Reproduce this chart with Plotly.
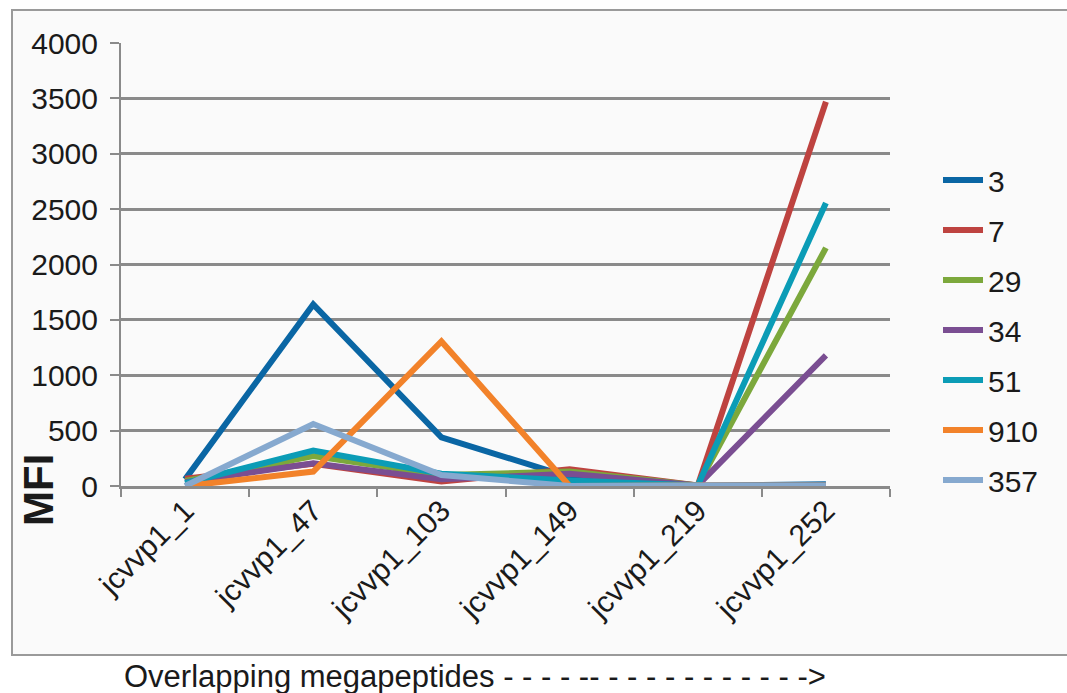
import plotly.graph_objects as go

categories = ["jcvvp1_1", "jcvvp1_47", "jcvvp1_103", "jcvvp1_149", "jcvvp1_219", "jcvvp1_252"]
series_names = ["3", "7", "29", "34", "51", "910", "357"]
s3 = [60, 1640, 440, 80, 5, 15]
s7 = [65, 200, 40, 150, 5, 3470]
s29 = [45, 270, 100, 130, 5, 2150]
s34 = [35, 205, 60, 110, 5, 1180]
s51 = [25, 320, 110, 50, 5, 2555]
s910 = [0, 130, 1305, 0, 5, 5]
s357 = [0, 560, 100, 0, 5, 5]
values = [s3, s7, s29, s34, s51, s910, s357]
colors = ["#0A66A4", "#BE4340", "#7CA83C", "#7A4E92", "#0B9CB6", "#F2822A", "#86A9CF"]
y_ticks = [0, 500, 1000, 1500, 2000, 2500, 3000, 3500, 4000]

L, R, T, B = 121, 890, 43, 486
W, H = 1067, 693
pw, ph = R - L, B - T

def px(x):
    return (x - L) / pw

def py(y):
    return (B - y) / ph

fig = go.Figure()
for name, vals, col in zip(series_names, values, colors):
    fig.add_trace(go.Scatter(x=categories, y=vals, name=name, mode="lines",
                             line=dict(color=col, width=6), legendgroup=name))

font = "Liberation Sans, Arial, sans-serif"
fig.update_layout(
    width=W, height=H,
    margin=dict(l=L, r=W - R, t=T, b=H - B, pad=0),
    paper_bgcolor="white",
    plot_bgcolor="rgba(0,0,0,0)",
    font=dict(family=font, size=30, color="#1a1a1a"),
    showlegend=True,
    legend=dict(x=px(938), y=py(154), xanchor="left", yanchor="top",
                font=dict(size=30, family=font, color="#1a1a1a"),
                tracegroupgap=8, bgcolor="rgba(0,0,0,0)", itemwidth=40),
    xaxis=dict(type="category", range=[-0.5, 5.5], tickangle=-45,
               tickson="boundaries", ticks="outside", ticklen=8, tickwidth=2,
               tickcolor="#8a8a8a", showgrid=False, showline=True,
               linecolor="#8a8a8a", linewidth=3, tickfont=dict(size=30),
               zeroline=False, ticklabelstandoff=-8),
    yaxis=dict(range=[0, 4000], tickvals=y_ticks, ticks="outside", ticklen=9,
               tickwidth=2, tickcolor="#8a8a8a", showgrid=True,
               gridcolor="#8a8a8a", gridwidth=3, showline=True,
               linecolor="#8a8a8a", linewidth=2, zeroline=False,
               tickfont=dict(size=30), ticklabelstandoff=6),
    shapes=[dict(type="rect", xref="paper", yref="paper",
                 x0=px(12), x1=px(1078), y0=py(655), y1=py(10),
                 line=dict(color="#9a9a9a", width=2), fillcolor="#FAFAFA",
                 layer="below")],
    annotations=[
        dict(text="<b>MFI</b>", xref="paper", yref="paper", x=px(38), y=py(490),
             textangle=-90, showarrow=False, font=dict(size=42, family=font, color="#1a1a1a"),
             xanchor="center", yanchor="middle"),
        dict(text="Overlapping megapeptides - - - - -- - - - - - - - - - - ->",
             xref="paper", yref="paper", x=px(122), y=py(676), showarrow=False,
             xanchor="left", yanchor="middle",
             font=dict(size=31, family=font, color="#1a1a1a")),
    ],
)

fig.write_html("out.html", config={"displayModeBar": False},
               post_script="document.body.style.margin='0';document.body.style.overflow='hidden';")
